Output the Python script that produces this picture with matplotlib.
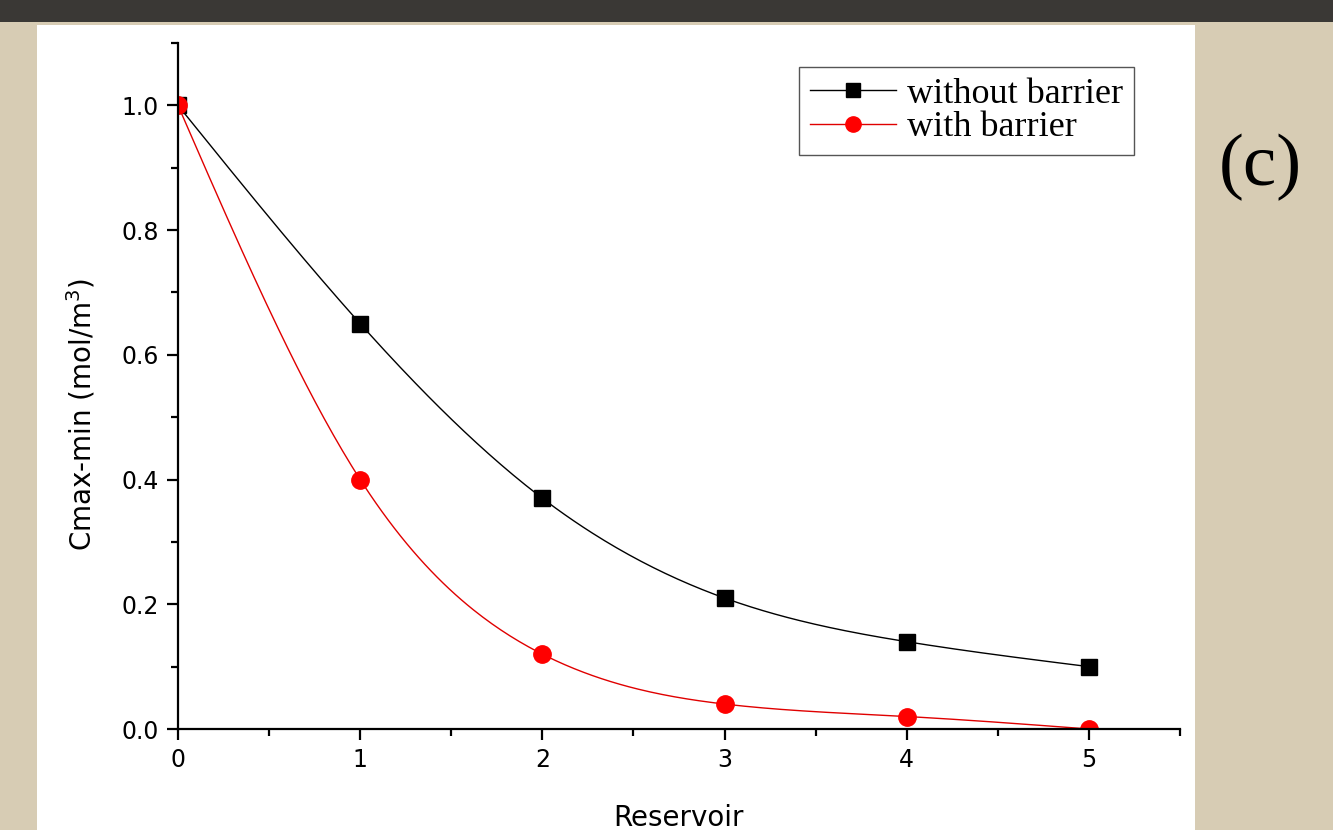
import numpy as np
import matplotlib.pyplot as plt
from matplotlib.patches import Rectangle

# данные
reservoir = [0, 1, 2, 3, 4, 5]
without_barrier = [1.0, 0.65, 0.37, 0.21, 0.14, 0.10]
with_barrier = [1.0, 0.40, 0.12, 0.04, 0.02, 0.0]
x_ticks = [0, 1, 2, 3, 4, 5]
y_ticks = [0.0, 0.2, 0.4, 0.6, 0.8, 1.0]


def natural_spline(x, y, n=300):
    # естественный кубический сплайн, только для гладкой линии между точками
    x = np.asarray(x, float)
    y = np.asarray(y, float)
    k = len(x)
    h = np.diff(x)
    A = np.zeros((k, k))
    r = np.zeros(k)
    A[0, 0] = A[-1, -1] = 1
    for i in range(1, k - 1):
        A[i, i - 1] = h[i - 1]
        A[i, i] = 2 * (h[i - 1] + h[i])
        A[i, i + 1] = h[i]
        r[i] = 6 * ((y[i + 1] - y[i]) / h[i] - (y[i] - y[i - 1]) / h[i - 1])
    m = np.linalg.solve(A, r)
    xs = np.linspace(x[0], x[-1], n)
    idx = np.clip(np.searchsorted(x, xs) - 1, 0, k - 2)
    x0, x1 = x[idx], x[idx + 1]
    hh = x1 - x0
    a = (x1 - xs) / hh
    b = (xs - x0) / hh
    ys = a * y[idx] + b * y[idx + 1] + ((a ** 3 - a) * m[idx] + (b ** 3 - b) * m[idx + 1]) * hh ** 2 / 6
    return xs, ys


fig = plt.figure(figsize=(13.33, 8.3), dpi=100)
fig.patch.set_facecolor('#d7ccb4')

# тёмная полоса сверху и белая подложка
fig.add_artist(Rectangle((0, 1 - 22 / 830), 1, 22 / 830, transform=fig.transFigure,
                         facecolor='#3a3835', edgecolor='none', zorder=0))
fig.add_artist(Rectangle((37 / 1333, 0), (1195 - 37) / 1333, 1 - 25 / 830, transform=fig.transFigure,
                         facecolor='white', edgecolor='none', zorder=0))

ax = fig.add_axes([178 / 1333, 1 - 729 / 830, (1180 - 178) / 1333, (729 - 43) / 830])
ax.set_facecolor('none')

xs, ys = natural_spline(reservoir, without_barrier)
ax.plot(xs, ys, color='black', lw=1.0)
ax.plot(reservoir, without_barrier, ls='none', marker='s', ms=11, color='black')
xs, ys = natural_spline(reservoir, with_barrier)
ax.plot(xs, ys, color='#e00000', lw=1.0)
ax.plot(reservoir, with_barrier, ls='none', marker='o', ms=12.5, color='#ff0000')

# легенда
h1, = ax.plot([], [], color='black', lw=1.0, marker='s', ms=9.5)
h2, = ax.plot([], [], color='#e00000', lw=1.0, marker='o', ms=11, mfc='#ff0000', mec='#ff0000')
leg = ax.legend([h1, h2], ['without barrier', 'with barrier'], loc='upper right',
                bbox_to_anchor=((1134 - 178) / (1180 - 178), (729 - 67) / (729 - 43)),
                prop={'family': 'Liberation Serif', 'size': 26}, fancybox=False,
                edgecolor='#555555', framealpha=1, handlelength=2.4, handletextpad=0.3,
                borderpad=0.3, labelspacing=0.0, borderaxespad=0)
leg.get_frame().set_linewidth(1.0)

ax.set_xlim(0, 5.5)
ax.set_ylim(0, 1.1)
ax.set_xticks(x_ticks)
ax.set_xticks(np.arange(0.5, 5.6, 1.0), minor=True)
ax.set_yticks(y_ticks)
ax.set_yticks(np.arange(0.1, 1.11, 0.2), minor=True)
ax.set_yticklabels(['%.1f' % v for v in y_ticks])
ax.spines['top'].set_visible(False)
ax.spines['right'].set_visible(False)
for s in ['left', 'bottom']:
    ax.spines[s].set_linewidth(1.6)
ax.tick_params(which='major', direction='out', length=8, width=1.6, labelsize=17, pad=6)
ax.tick_params(which='minor', direction='out', length=5, width=1.6)

ax.set_xlabel('Reservoir', fontsize=20, labelpad=23)
ax.set_ylabel('Cmax-min (mol/m$^3$)', fontsize=20)
ax.yaxis.set_label_coords(-80 / 1002, (729 - 414) / 686)

fig.text(1260 / 1333, 1 - 167 / 830, '(c)', family='Liberation Serif', fontsize=54,
         ha='center', va='center')

fig.savefig('out.png', dpi=100, facecolor=fig.get_facecolor())
